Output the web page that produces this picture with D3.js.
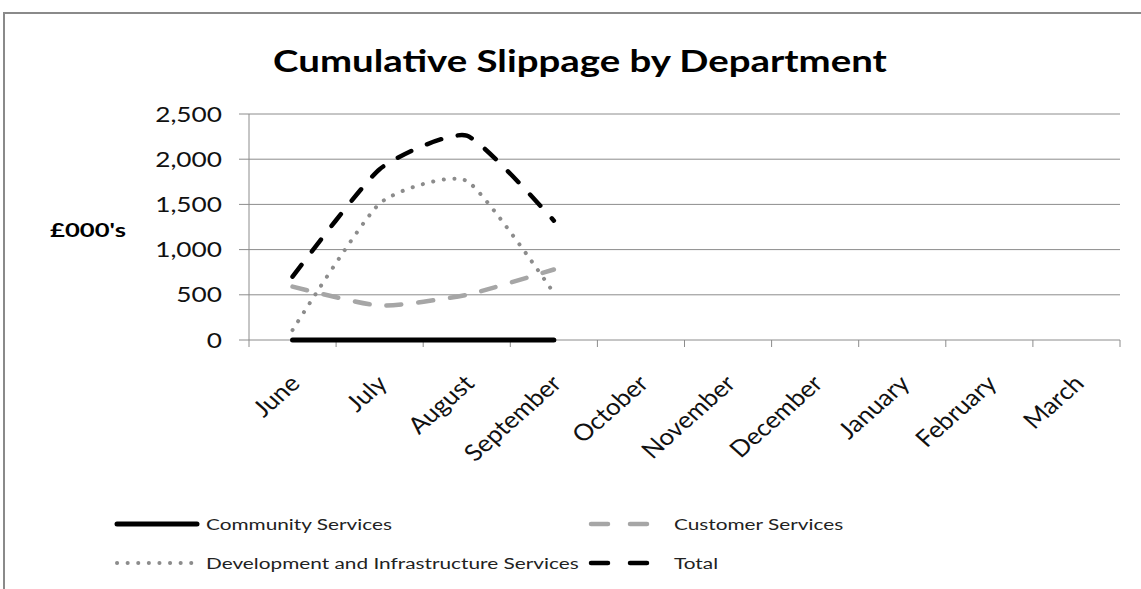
<!DOCTYPE html>
<html>
<head>
<meta charset="utf-8">
<script src="https://cdn.jsdelivr.net/npm/d3@7"></script>
<style>
  body { margin: 0; background: #fff; }
  svg { display: block; }
</style>
</head>
<body>
<svg id="chart"></svg>
<script>
// values (£000's)
const months = ["June", "July", "August", "September", "October", "November",
                "December", "January", "February", "March"];
const community = [0, 0, 0, 0];
const customer = [590, 380, 500, 780];
const development = [110, 1510, 1760, 520];
const total = [700, 1890, 2260, 1320];
const yTicks = [0, 500, 1000, 1500, 2000, 2500];

const width = 1141, height = 589;
const plot = { left: 249, right: 1120, top: 114, bottom: 340 };

const svg = d3.select("#chart").attr("width", width).attr("height", height);

// outer frame
svg.append("rect")
    .attr("x", 4).attr("y", 13)
    .attr("width", 1300).attr("height", 700)
    .attr("fill", "none")
    .attr("stroke", "#8a8a8a")
    .attr("stroke-width", 2);

const x = d3.scaleBand().domain(months).range([plot.left, plot.right]);
const y = d3.scaleLinear().domain([0, 2500]).range([plot.bottom, plot.top]);

// the reference is stretched sideways, so text gets a horizontal scale
function stretchedText(px, py, str, sx) {
    return svg.append("text")
        .attr("transform", `translate(${px},${py}) scale(${sx},1)`)
        .attr("font-family", "Lato, sans-serif")
        .text(str);
}

// title
stretchedText(580, 72, "Cumulative Slippage by Department", 1.28)
    .attr("text-anchor", "middle")
    .attr("font-weight", "bold")
    .attr("font-size", 30)
    .attr("fill", "#000");

// y axis title
stretchedText(88, 237, "£000's", 1.35)
    .attr("text-anchor", "middle")
    .attr("font-weight", "bold")
    .attr("font-size", 19)
    .attr("fill", "#000");

// gridlines + y ticks
svg.append("g").selectAll("line")
    .data(yTicks)
    .join("line")
    .attr("x1", plot.left - 10)
    .attr("x2", plot.right)
    .attr("y1", d => y(d)).attr("y2", d => y(d))
    .attr("stroke", "#8c8c8c")
    .attr("stroke-width", 1);

yTicks.forEach(t => {
    stretchedText(222, y(t) + 7.5, d3.format(",")(t), 1.25)
        .attr("text-anchor", "end")
        .attr("font-size", 21)
        .attr("fill", "#111");
});

// y axis line
svg.append("line")
    .attr("x1", plot.left).attr("x2", plot.left)
    .attr("y1", plot.top).attr("y2", plot.bottom + 7)
    .attr("stroke", "#8c8c8c");

// x category ticks
const bounds = months.map(m => x(m)).concat([plot.right]).slice(1);
svg.append("g").selectAll("line")
    .data(bounds)
    .join("line")
    .attr("x1", d => d).attr("x2", d => d)
    .attr("y1", plot.bottom).attr("y2", plot.bottom + 7)
    .attr("stroke", "#8c8c8c");

// x labels, rotated
months.forEach(m => {
    const cx = x(m) + x.bandwidth() / 2;
    svg.append("text")
        .attr("transform", `translate(${cx + 9},${plot.bottom + 45}) scale(1.13,1) rotate(-45)`)
        .attr("text-anchor", "end")
        .attr("font-family", "Lato, sans-serif")
        .attr("font-size", 23)
        .attr("fill", "#111")
        .text(m);
});

// series
const series = [
    { name: "Community Services", values: community, color: "#000", width: 5, dash: null, key: null },
    { name: "Customer Services", values: customer, color: "#a6a6a6", width: 4.5, dash: "15 17", key: "17 22" },
    { name: "Development and Infrastructure Services", values: development, color: "#8c8c8c", width: 4, dash: "0.1 10.5", key: "0.1 10.5" },
    { name: "Total", values: total, color: "#000", width: 4.5, dash: "15 17", key: "17 22" }
];

const line = d3.line()
    .x((d, i) => x(months[i]) + x.bandwidth() / 2)
    .y(d => y(d))
    .curve(d3.curveCardinal.tension(0.45));

svg.append("g").selectAll("path")
    .data(series)
    .join("path")
    .attr("d", d => line(d.values))
    .attr("fill", "none")
    .attr("stroke", d => d.color)
    .attr("stroke-width", d => d.width)
    .attr("stroke-dasharray", d => d.dash)
    .attr("stroke-linecap", "round");

// legend
const legendPos = [
    { x: 117, y: 524, sample: 80, tx: 206 },
    { x: 591, y: 524, sample: 61, tx: 674 },
    { x: 117, y: 563, sample: 76, tx: 206 },
    { x: 591, y: 563, sample: 61, tx: 674 }
];

series.forEach((s, i) => {
    const p = legendPos[i];
    svg.append("line")
        .attr("x1", p.x).attr("x2", p.x + p.sample)
        .attr("y1", p.y).attr("y2", p.y)
        .attr("stroke", s.color)
        .attr("stroke-width", s.width)
        .attr("stroke-dasharray", s.key)
        .attr("stroke-linecap", "round");
    stretchedText(p.tx, p.y + 6, s.name, 1.3)
        .attr("font-size", 16)
        .attr("fill", "#222");
});
</script>
</body>
</html>
